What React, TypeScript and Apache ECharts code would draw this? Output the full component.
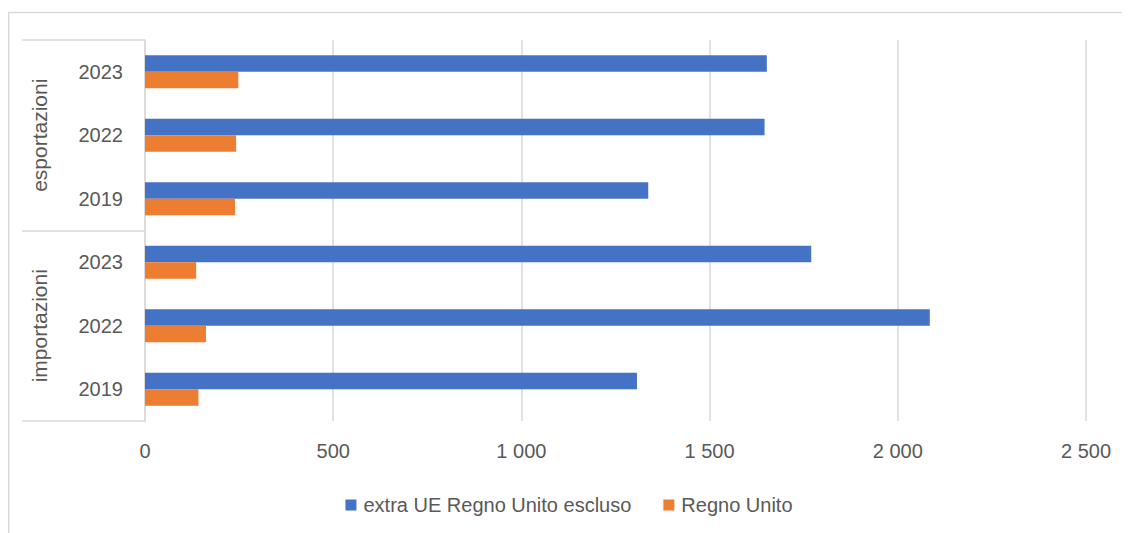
import React, { useEffect, useRef } from "react";
import * as echarts from "echarts";

const years = ["2023", "2022", "2019", "2023", "2022", "2019"];
const groups = ["esportazioni", "importazioni"];
const seriesNames = ["extra UE Regno Unito escluso", "Regno Unito"];
const extraUE = [1652, 1646, 1337, 1770, 2085, 1307];
const regnoUnito = [248, 242, 239, 136, 162, 142];
const xTicks = { min: 0, max: 2500, interval: 500 };

const FONT = "Liberation Sans, Arial, sans-serif";
const TEXT = "#595959";
const GRID = "#d9d9d9";

function fmt(v: number): string {
  const s = String(Math.round(v));
  return s.replace(/\B(?=(\d{3})+(?!\d))/g, " ");
}

export default function App() {
  const ref = useRef<HTMLDivElement>(null);
  useEffect(() => {
    if (!ref.current) return;
    const chart = echarts.init(ref.current, undefined, { renderer: "svg" });
    chart.setOption({
      animation: false,
      textStyle: { fontFamily: FONT },
      graphic: [
        {
          type: "rect",
          shape: { x: 0.75, y: 4.5, width: 2000, height: 2000 },
          style: { fill: "none", stroke: GRID, lineWidth: 1.5 },
          silent: true,
        },
      ],
      grid: { left: 137, right: 44, top: 32, bottom: 112, containLabel: false },
      legend: {
        top: 482,
        left: "center",
        icon: "rect",
        itemWidth: 11,
        itemHeight: 11,
        itemGap: 32,
        textStyle: { fontSize: 20, color: TEXT, fontFamily: FONT, padding: [0, 0, 0, 2] },
        data: seriesNames,
      },
      xAxis: {
        type: "value",
        min: xTicks.min,
        max: xTicks.max,
        interval: xTicks.interval,
        axisLine: { show: false },
        axisTick: { show: false },
        splitLine: { show: true, lineStyle: { color: GRID, width: 1.5 } },
        axisLabel: {
          fontSize: 20,
          color: TEXT,
          margin: 20,
          fontFamily: FONT,
          formatter: (v: number) => fmt(v),
        },
      },
      yAxis: [
        {
          type: "category",
          data: years,
          inverse: true,
          position: "left",
          axisLine: { show: true, lineStyle: { color: GRID, width: 1.5 } },
          axisTick: { show: false },
          axisLabel: { fontSize: 20, color: TEXT, margin: 22, fontFamily: FONT },
        },
        {
          type: "category",
          data: groups,
          inverse: true,
          position: "left",
          offset: 0,
          axisLine: { show: false },
          axisTick: { show: true, length: 123, lineStyle: { color: GRID, width: 1.5 } },
          axisLabel: { fontSize: 21, color: TEXT, rotate: 90, margin: 95, fontFamily: FONT },
          splitLine: { show: false },
        },
      ],
      series: [
        {
          name: seriesNames[0],
          type: "bar",
          yAxisIndex: 0,
          data: extraUE,
          barWidth: 16.5,
          barGap: "0%",
          itemStyle: { color: "#4472C4" },
        },
        {
          name: seriesNames[1],
          type: "bar",
          yAxisIndex: 0,
          data: regnoUnito,
          barWidth: 16.5,
          barGap: "0%",
          itemStyle: { color: "#ED7D31" },
        },
      ],
    });
    return () => chart.dispose();
  }, []);
  return <div ref={ref} style={{ width: 1122, height: 525 }} />;
}
